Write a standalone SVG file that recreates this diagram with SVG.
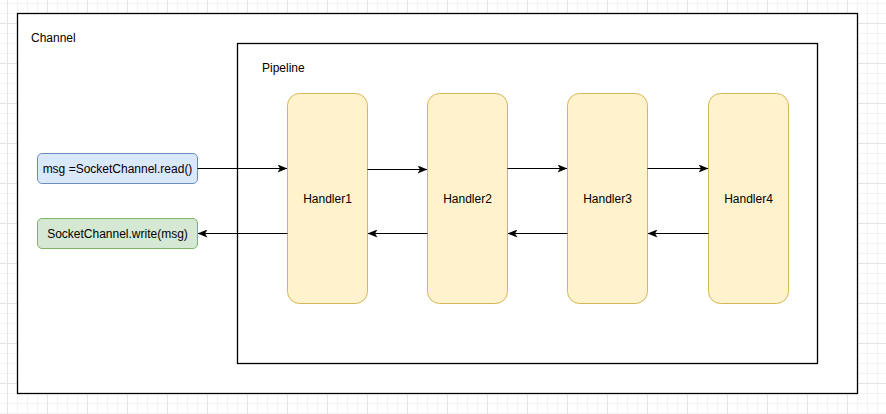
<svg xmlns="http://www.w3.org/2000/svg" width="886" height="414" viewBox="0 0 886 414">
<defs>
<pattern id="minor" x="7" y="3" width="10" height="10" patternUnits="userSpaceOnUse">
<path d="M0.5 0V10M0 0.5H10" fill="none" stroke="#f3f3f3" stroke-width="1"/>
</pattern>
<pattern id="major" x="7" y="23" width="40" height="40" patternUnits="userSpaceOnUse">
<path d="M0.5 0V40M0 0.5H40" fill="none" stroke="#e5e5e5" stroke-width="1"/>
</pattern>
<marker id="arr" viewBox="0 0 10 8" refX="9.5" refY="4" markerWidth="10" markerHeight="8" markerUnits="userSpaceOnUse" orient="auto">
<path d="M0 0L10 4L0 8L2.5 4Z" fill="#000"/>
</marker>
</defs>
<style>
text{font-family:"Liberation Sans",Arial,sans-serif;font-size:12px;fill:#000}
.c{text-anchor:middle;dominant-baseline:central}
.cont{fill:#fff;stroke:#000;stroke-width:1.3}
.h{fill:#fff2cc;stroke:#d6b656;stroke-width:1}
.blue{fill:#dae8fc;stroke:#6c8ebf;stroke-width:1}
.green{fill:#d5e8d4;stroke:#82b366;stroke-width:1}
.e{fill:none;stroke:#000;stroke-width:1;marker-end:url(#arr)}
</style>
<rect width="886" height="414" fill="#fff"/>
<rect width="886" height="414" fill="url(#minor)"/>
<rect width="886" height="414" fill="url(#major)"/>
<g id="channel">
<rect class="cont" x="17.5" y="13.5" width="840" height="380"/>
<text x="31" y="42">Channel</text>
</g>
<g id="pipeline">
<rect class="cont" x="237.5" y="43.5" width="580" height="320"/>
<text x="262" y="72">Pipeline</text>
</g>
<g id="read">
<rect class="blue" x="37.5" y="153.5" width="160" height="30" rx="4.5"/>
<text class="c" x="117.5" y="168.5">msg =SocketChannel.read()</text>
</g>
<g id="write">
<rect class="green" x="37.5" y="218.5" width="160" height="30" rx="4.5"/>
<text class="c" x="117.5" y="233.5">SocketChannel.write(msg)</text>
</g>
<g id="handler1">
<rect class="h" x="287.5" y="93.5" width="80" height="210" rx="12"/>
<text class="c" x="327.5" y="198.5">Handler1</text>
</g>
<g id="handler2">
<rect class="h" x="427.5" y="93.5" width="80" height="210" rx="12"/>
<text class="c" x="467.5" y="198.5">Handler2</text>
</g>
<g id="handler3">
<rect class="h" x="567.5" y="93.5" width="80" height="210" rx="12"/>
<text class="c" x="607.5" y="198.5">Handler3</text>
</g>
<g id="handler4">
<rect class="h" x="708.5" y="93.5" width="80" height="210" rx="12"/>
<text class="c" x="748.5" y="198.5">Handler4</text>
</g>
<g id="connectors">
<path class="e" d="M197.5 168.5H287"/>
<path class="e" d="M367.5 169.5H427"/>
<path class="e" d="M507.5 168.5H567"/>
<path class="e" d="M647.5 168.5H708"/>
<path class="e" d="M708.5 233.5H648"/>
<path class="e" d="M567.5 233.5H508"/>
<path class="e" d="M427.5 233.5H368"/>
<path class="e" d="M287.5 233.5H198"/>
</g>
</svg>
